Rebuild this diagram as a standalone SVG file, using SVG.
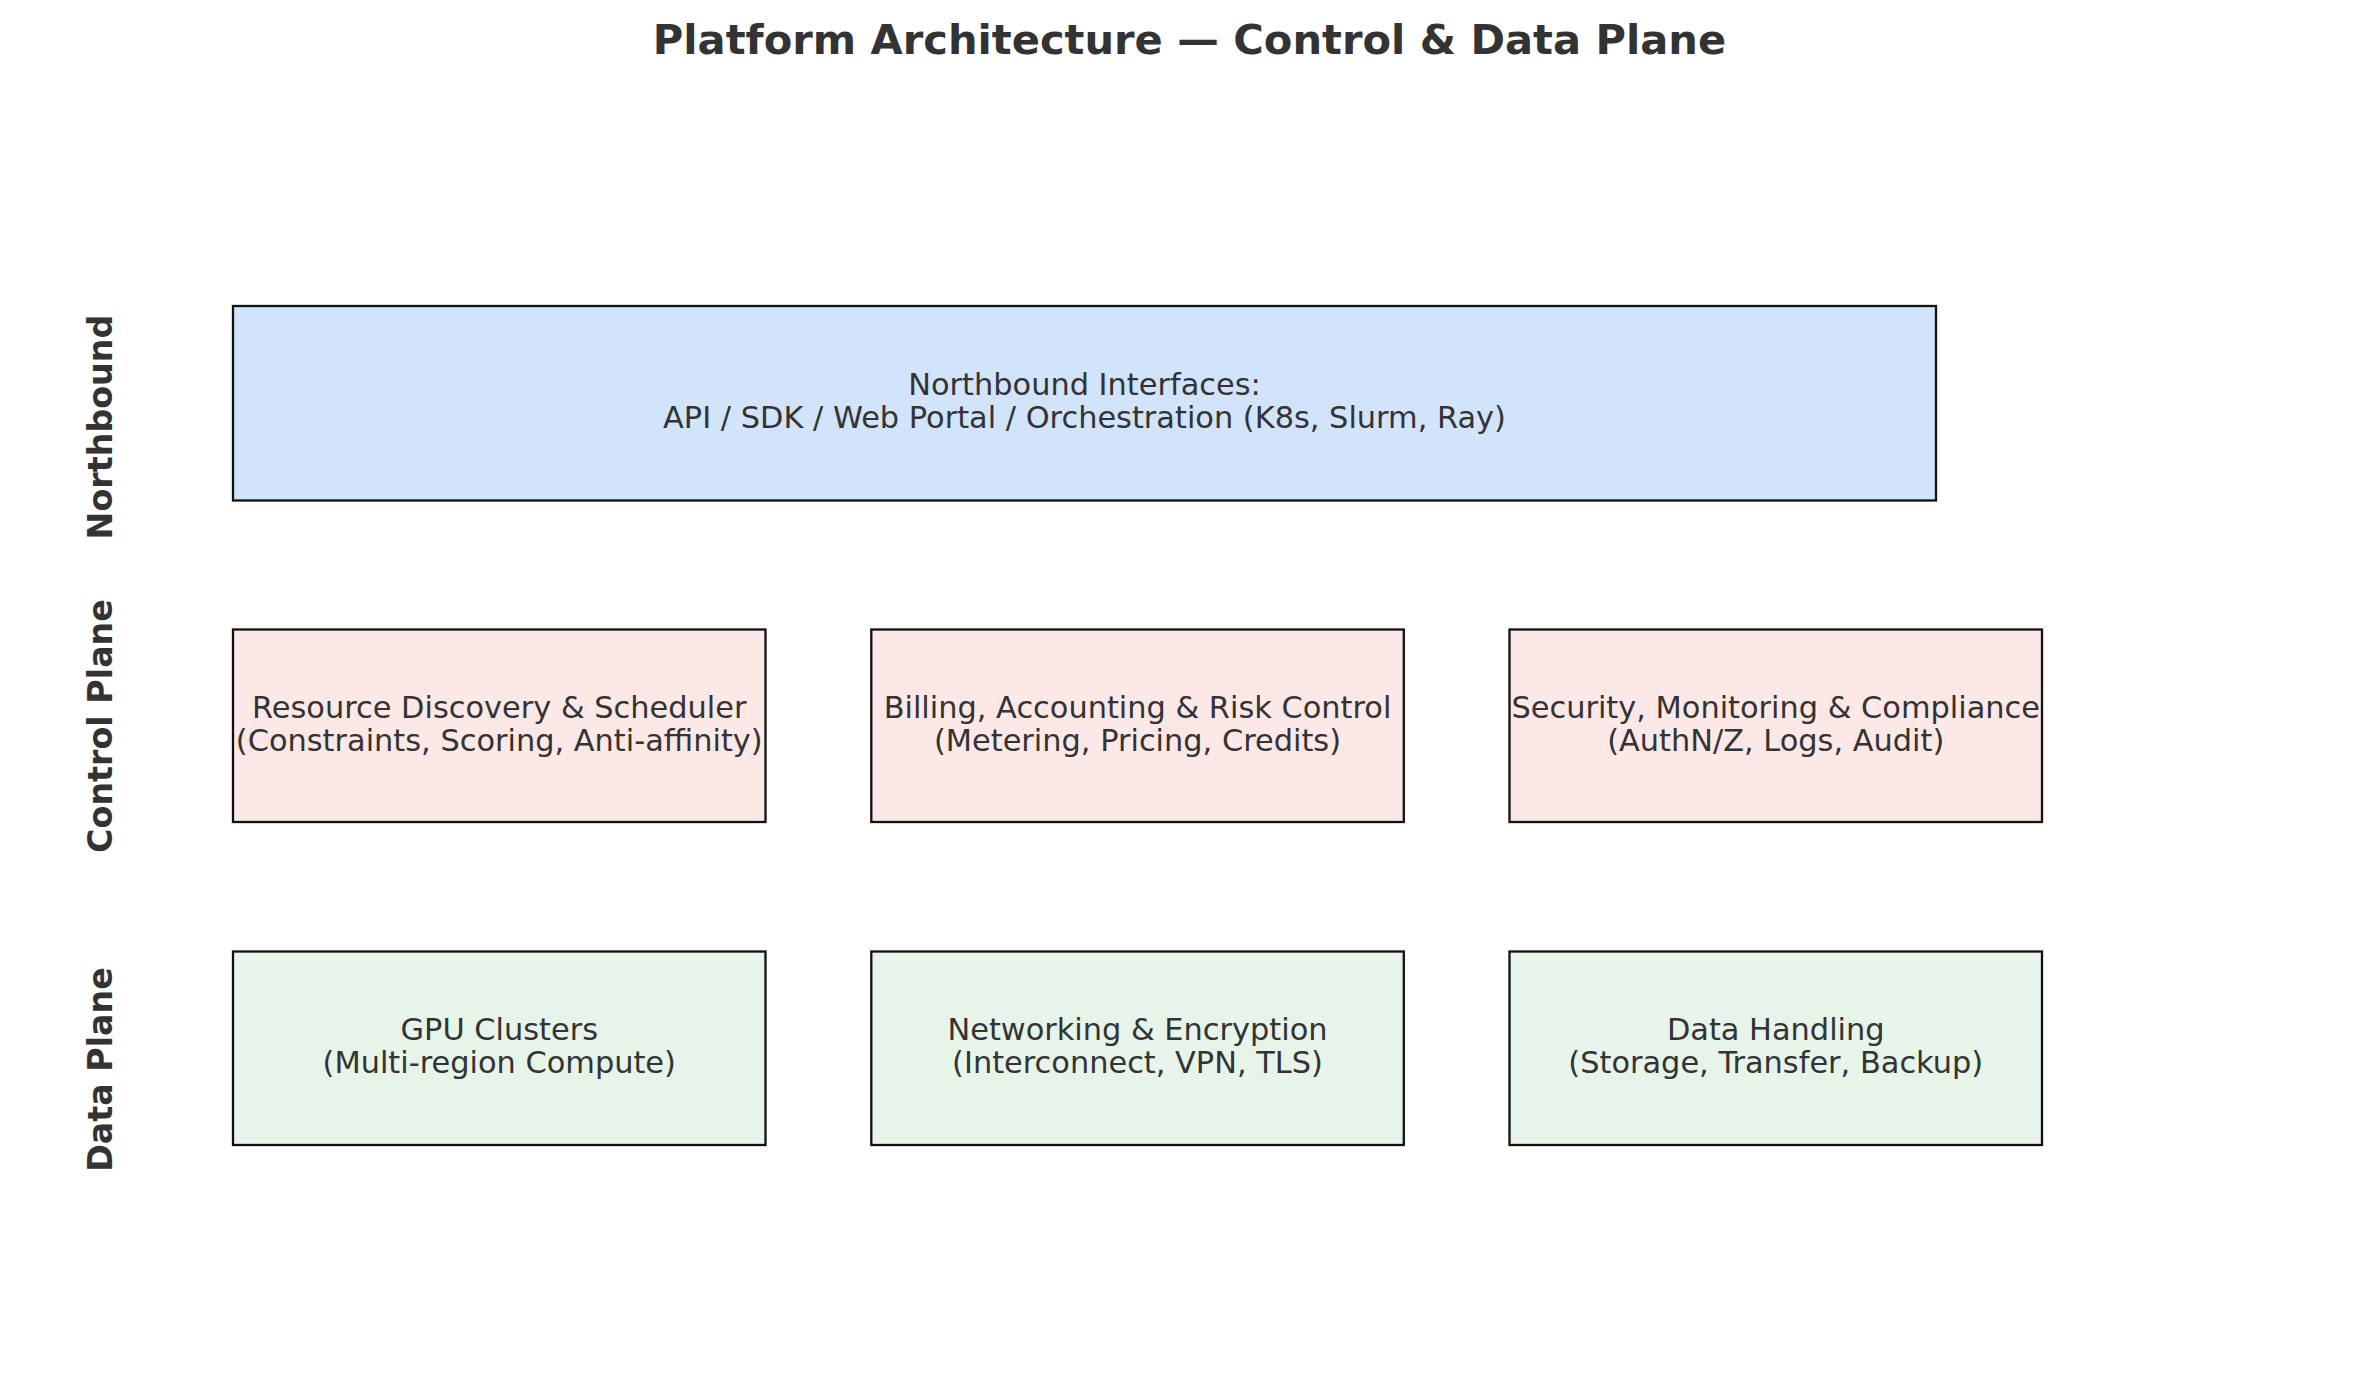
<svg xmlns="http://www.w3.org/2000/svg" width="2379" height="1380" viewBox="0 0 2379 1380">
<style>
  .box { stroke: #111111; stroke-width: 2.3; }
  .nb { fill: #d2e3fc; }
  .cp { fill: #fce8e6; }
  .dp { fill: #e6f4ea; }
  .lbl { font-family: "DejaVu Sans", Verdana, sans-serif; font-size: 30.4px; fill: #333333; text-anchor: middle; }
  .row { font-family: "DejaVu Sans", Verdana, sans-serif; font-size: 33.3px; font-weight: bold; fill: #333333; text-anchor: middle; }
  .title { font-family: "DejaVu Sans", Verdana, sans-serif; font-size: 41.6px; font-weight: bold; fill: #333333; text-anchor: middle; }
</style>
<rect width="2379" height="1380" fill="#ffffff"/>
<text class="title" x="1189.5" y="54">Platform Architecture — Control &amp; Data Plane</text>

<g id="row-labels">
  <text class="row" transform="translate(112,427) rotate(-90)" x="0" y="0">Northbound</text>
  <text class="row" transform="translate(112,726) rotate(-90)" x="0" y="0">Control Plane</text>
  <text class="row" transform="translate(112,1069.5) rotate(-90)" x="0" y="0">Data Plane</text>
</g>

<g id="northbound">
  <rect class="box nb" x="233" y="306" width="1703" height="194.5"/>
  <text class="lbl" x="1084.5" y="395">Northbound Interfaces:</text>
  <text class="lbl" x="1084.5" y="428">API / SDK / Web Portal / Orchestration (K8s, Slurm, Ray)</text>
</g>

<g id="scheduler">
  <rect class="box cp" x="233" y="629.5" width="532.5" height="192.5"/>
  <text class="lbl" x="499.25" y="718">Resource Discovery &amp; Scheduler</text>
  <text class="lbl" x="499.25" y="751">(Constraints, Scoring, Anti-affinity)</text>
</g>

<g id="billing">
  <rect class="box cp" x="871.3" y="629.5" width="532.5" height="192.5"/>
  <text class="lbl" x="1137.5" y="718">Billing, Accounting &amp; Risk Control</text>
  <text class="lbl" x="1137.5" y="751">(Metering, Pricing, Credits)</text>
</g>

<g id="security">
  <rect class="box cp" x="1509.5" y="629.5" width="532.5" height="192.5"/>
  <text class="lbl" x="1775.75" y="718">Security, Monitoring &amp; Compliance</text>
  <text class="lbl" x="1775.75" y="751">(AuthN/Z, Logs, Audit)</text>
</g>

<g id="gpu">
  <rect class="box dp" x="233" y="951.5" width="532.5" height="193.5"/>
  <text class="lbl" x="499.25" y="1040">GPU Clusters</text>
  <text class="lbl" x="499.25" y="1073">(Multi-region Compute)</text>
</g>

<g id="networking">
  <rect class="box dp" x="871.3" y="951.5" width="532.5" height="193.5"/>
  <text class="lbl" x="1137.5" y="1040">Networking &amp; Encryption</text>
  <text class="lbl" x="1137.5" y="1073">(Interconnect, VPN, TLS)</text>
</g>

<g id="data-handling">
  <rect class="box dp" x="1509.5" y="951.5" width="532.5" height="193.5"/>
  <text class="lbl" x="1775.75" y="1040">Data Handling</text>
  <text class="lbl" x="1775.75" y="1073">(Storage, Transfer, Backup)</text>
</g>

<g id="connectors"></g>
</svg>
